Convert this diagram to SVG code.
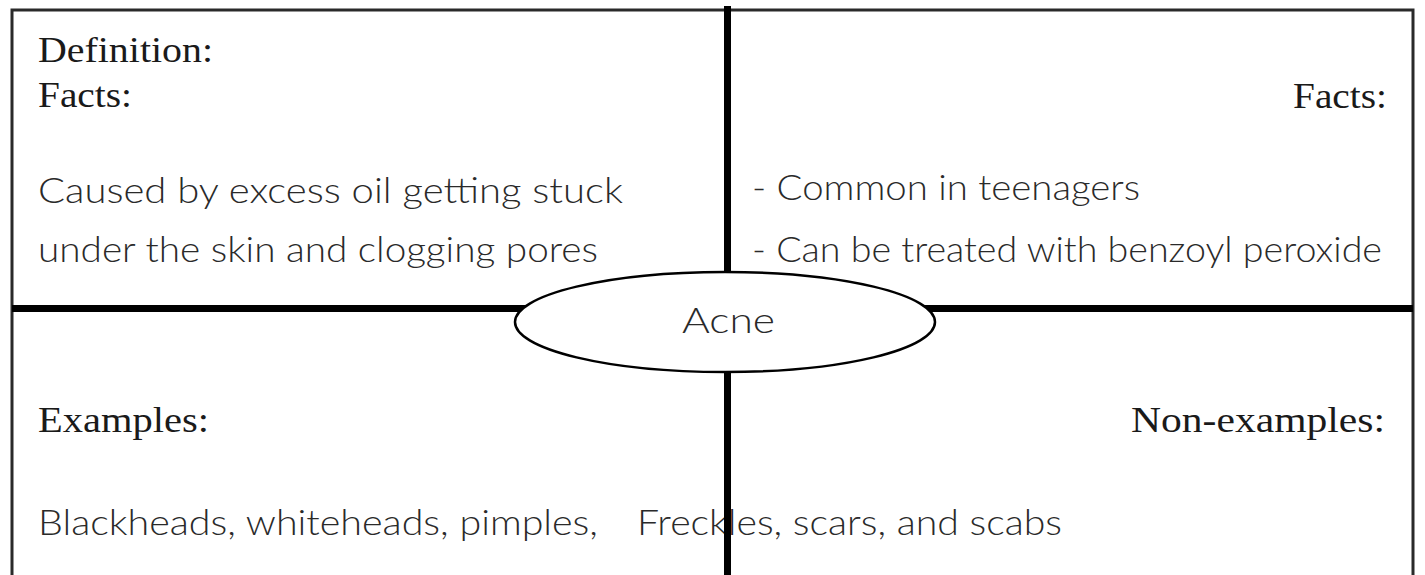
<svg xmlns="http://www.w3.org/2000/svg" width="1425" height="575" viewBox="0 0 1425 575">
  <style>
    .label { font-family: "Liberation Serif", "DejaVu Serif", serif; font-size: 35px; fill: #1a1a1a; }
    .hand { font-family: Lato, "Open Sans", sans-serif; font-weight: 300; font-size: 35px; fill: #2a2a2a; }
    .frame { fill: none; stroke: #2a2a2a; stroke-width: 3; }
    .axis { stroke: #000; stroke-width: 7; }
  </style>
  <rect width="1425" height="575" fill="#fff"/>
  <g id="frame">
    <path class="frame" d="M12 580 L12 10 L1413 10 L1413 580"/>
  </g>
  <g id="definition">
    <text class="label" x="38" y="62" textLength="175" lengthAdjust="spacingAndGlyphs">Definition:</text>
    <text class="label" x="38" y="107" textLength="94" lengthAdjust="spacingAndGlyphs">Facts:</text>
    <text class="hand" x="38" y="203" textLength="585" lengthAdjust="spacingAndGlyphs">Caused by excess oil getting stuck</text>
    <text class="hand" x="38" y="262" textLength="560" lengthAdjust="spacingAndGlyphs">under the skin and clogging pores</text>
  </g>
  <g id="facts">
    <text class="label" x="1387" y="108" text-anchor="end" textLength="94" lengthAdjust="spacingAndGlyphs">Facts:</text>
    <text class="hand" x="752" y="200" textLength="388" lengthAdjust="spacingAndGlyphs">- Common in teenagers</text>
    <text class="hand" x="752" y="262" textLength="630" lengthAdjust="spacingAndGlyphs">- Can be treated with benzoyl peroxide</text>
  </g>
  <g id="examples">
    <text class="label" x="38" y="432" textLength="171" lengthAdjust="spacingAndGlyphs">Examples:</text>
    <text class="hand" x="38" y="535" textLength="560" lengthAdjust="spacingAndGlyphs">Blackheads, whiteheads, pimples,</text>
  </g>
  <g id="non-examples">
    <text class="label" x="1385" y="432" text-anchor="end" textLength="254" lengthAdjust="spacingAndGlyphs">Non-examples:</text>
    <text class="hand" x="637" y="535" textLength="425" lengthAdjust="spacingAndGlyphs">Freckles, scars, and scabs</text>
  </g>
  <g id="connectors">
    <line class="axis" x1="727.5" y1="6" x2="727.5" y2="575"/>
    <line class="axis" x1="12" y1="308.5" x2="1413" y2="308.5"/>
  </g>
  <g id="acne">
    <ellipse cx="725" cy="322" rx="210" ry="50" fill="#fff" stroke="#000" stroke-width="2.5"/>
    <text class="hand" x="682" y="333" textLength="93" lengthAdjust="spacingAndGlyphs">Acne</text>
  </g>
</svg>
